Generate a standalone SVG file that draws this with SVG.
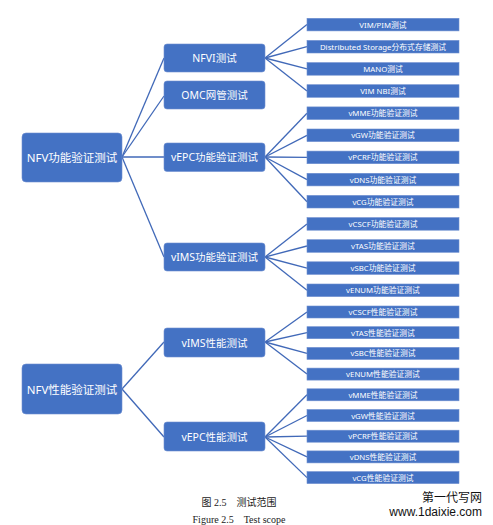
<svg xmlns="http://www.w3.org/2000/svg" width="493" height="525" viewBox="0 0 493 525">
<style>
.n rect{fill:#4472C4;stroke:#6F8FD0;stroke-width:0.6}
.n text{fill:#fff;font-family:"Noto Sans","Noto Sans CJK SC",sans-serif;text-anchor:middle;dominant-baseline:central}
.r text{font-size:11.5px}
.m text{font-size:10.5px}
.l text{font-size:7.8px}
.c line{stroke:#4169B8;stroke-width:1.3}
.cap{font-family:"Liberation Serif","Noto Sans CJK SC",serif;font-size:10px;fill:#222;text-anchor:middle}
.wm{font-family:"Liberation Sans","Noto Sans CJK SC",sans-serif;font-size:12px;fill:#111;text-anchor:end}
</style>
<rect width="493" height="525" fill="#fff"/>
<g id="connectors" class="c">
<line x1="122" y1="157" x2="164" y2="58"/>
<line x1="122" y1="157" x2="164" y2="96"/>
<line x1="122" y1="157" x2="164" y2="157"/>
<line x1="122" y1="157" x2="164" y2="257"/>
<line x1="122" y1="389" x2="164" y2="342"/>
<line x1="122" y1="389" x2="164" y2="437"/>
<line x1="265" y1="58" x2="307" y2="24.6"/>
<line x1="265" y1="58" x2="307" y2="46.7"/>
<line x1="265" y1="58" x2="307" y2="68.9"/>
<line x1="265" y1="58" x2="307" y2="91"/>
<line x1="265" y1="157" x2="307" y2="113.2"/>
<line x1="265" y1="157" x2="307" y2="135.3"/>
<line x1="265" y1="157" x2="307" y2="157.4"/>
<line x1="265" y1="157" x2="307" y2="179.6"/>
<line x1="265" y1="157" x2="307" y2="201.7"/>
<line x1="265" y1="257" x2="307" y2="223.9"/>
<line x1="265" y1="257" x2="307" y2="246"/>
<line x1="265" y1="257" x2="307" y2="268.1"/>
<line x1="265" y1="257" x2="307" y2="290.3"/>
<line x1="265" y1="342" x2="307" y2="312"/>
<line x1="265" y1="342" x2="307" y2="332.7"/>
<line x1="265" y1="342" x2="307" y2="353.4"/>
<line x1="265" y1="342" x2="307" y2="374.1"/>
<line x1="265" y1="437" x2="307" y2="394.8"/>
<line x1="265" y1="437" x2="307" y2="415.5"/>
<line x1="265" y1="437" x2="307" y2="436.2"/>
<line x1="265" y1="437" x2="307" y2="456.9"/>
<line x1="265" y1="437" x2="307" y2="477.6"/>
</g>
<g id="root-func" class="n r"><rect x="22" y="133" width="100" height="49" rx="4"/><text x="72" y="157.5">NFV功能验证测试</text></g>
<g id="root-perf" class="n r"><rect x="22" y="364" width="100" height="50" rx="4"/><text x="72" y="389">NFV性能验证测试</text></g>
<g id="nfvi" class="n m"><rect x="164" y="44" width="101" height="28" rx="3"/><text x="214.5" y="58">NFVI测试</text></g>
<g id="omc" class="n m"><rect x="164" y="81" width="101" height="28" rx="3"/><text x="214.5" y="95">OMC网管测试</text></g>
<g id="vepc-func" class="n m"><rect x="164" y="143" width="101" height="28.5" rx="3"/><text x="214.5" y="157.3">vEPC功能验证测试</text></g>
<g id="vims-func" class="n m"><rect x="164" y="243" width="101" height="28" rx="3"/><text x="214.5" y="257">vIMS功能验证测试</text></g>
<g id="vims-perf" class="n m"><rect x="164" y="328" width="101" height="29" rx="3"/><text x="214.5" y="342.5">vIMS性能测试</text></g>
<g id="vepc-perf" class="n m"><rect x="164" y="422" width="101" height="29" rx="3"/><text x="214.5" y="436.5">vEPC性能测试</text></g>
<g id="l1" class="n l"><rect x="307" y="18.3" width="152" height="12.6"/><text x="383" y="24.6">VIM/PIM测试</text></g>
<g id="l2" class="n l"><rect x="307" y="40.4" width="152" height="12.6"/><text x="383" y="46.7">Distributed Storage分布式存储测试</text></g>
<g id="l3" class="n l"><rect x="307" y="62.6" width="152" height="12.6"/><text x="383" y="68.9">MANO测试</text></g>
<g id="l4" class="n l"><rect x="307" y="84.7" width="152" height="12.6"/><text x="383" y="91">VIM NBI测试</text></g>
<g id="l5" class="n l"><rect x="307" y="106.9" width="152" height="12.6"/><text x="383" y="113.2">vMME功能验证测试</text></g>
<g id="l6" class="n l"><rect x="307" y="129" width="152" height="12.6"/><text x="383" y="135.3">vGW功能验证测试</text></g>
<g id="l7" class="n l"><rect x="307" y="151.1" width="152" height="12.6"/><text x="383" y="157.4">vPCRF功能验证测试</text></g>
<g id="l8" class="n l"><rect x="307" y="173.3" width="152" height="12.6"/><text x="383" y="179.6">vDNS功能验证测试</text></g>
<g id="l9" class="n l"><rect x="307" y="195.4" width="152" height="12.6"/><text x="383" y="201.7">vCG功能验证测试</text></g>
<g id="l10" class="n l"><rect x="307" y="217.6" width="152" height="12.6"/><text x="383" y="223.9">vCSCF功能验证测试</text></g>
<g id="l11" class="n l"><rect x="307" y="239.7" width="152" height="12.6"/><text x="383" y="246">vTAS功能验证测试</text></g>
<g id="l12" class="n l"><rect x="307" y="261.8" width="152" height="12.6"/><text x="383" y="268.1">vSBC功能验证测试</text></g>
<g id="l13" class="n l"><rect x="307" y="284" width="152" height="12.6"/><text x="383" y="290.3">vENUM功能验证测试</text></g>
<g id="p1" class="n l"><rect x="307" y="306" width="152" height="12"/><text x="383" y="312">vCSCF性能验证测试</text></g>
<g id="p2" class="n l"><rect x="307" y="326.7" width="152" height="12"/><text x="383" y="332.7">vTAS性能验证测试</text></g>
<g id="p3" class="n l"><rect x="307" y="347.4" width="152" height="12"/><text x="383" y="353.4">vSBC性能验证测试</text></g>
<g id="p4" class="n l"><rect x="307" y="368.1" width="152" height="12"/><text x="383" y="374.1">vENUM性能验证测试</text></g>
<g id="p5" class="n l"><rect x="307" y="388.8" width="152" height="12"/><text x="383" y="394.8">vMME性能验证测试</text></g>
<g id="p6" class="n l"><rect x="307" y="409.5" width="152" height="12"/><text x="383" y="415.5">vGW性能验证测试</text></g>
<g id="p7" class="n l"><rect x="307" y="430.2" width="152" height="12"/><text x="383" y="436.2">vPCRF性能验证测试</text></g>
<g id="p8" class="n l"><rect x="307" y="450.9" width="152" height="12"/><text x="383" y="456.9">vDNS性能验证测试</text></g>
<g id="p9" class="n l"><rect x="307" y="471.6" width="152" height="12"/><text x="383" y="477.6">vCG性能验证测试</text></g>
<text class="cap" x="239" y="506">图 2.5　测试范围</text>
<text class="cap" x="239" y="523">Figure 2.5　Test scope</text>
<text class="wm" x="482" y="502">第一代写网</text>
<text class="wm" x="482" y="516">www.1daixie.com</text>
</svg>
